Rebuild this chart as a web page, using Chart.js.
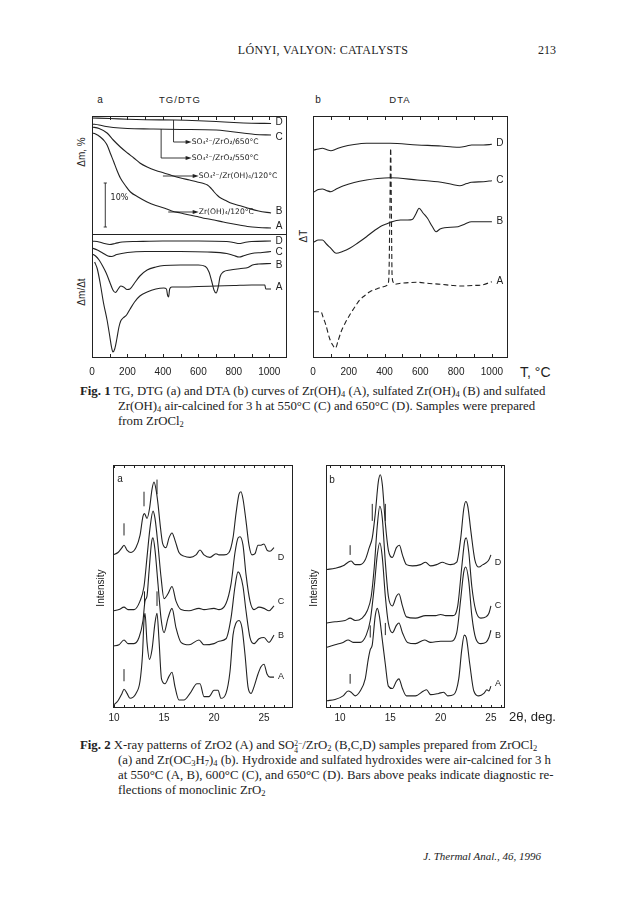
<!DOCTYPE html>
<html>
<head>
<meta charset="utf-8">
<script src="https://cdn.jsdelivr.net/npm/chart.js@4.4.1/dist/chart.umd.min.js"></script>
<style>
body{margin:0;background:#fff;width:624px;height:903px;position:relative;overflow:hidden;font-family:"Liberation Serif",serif;color:#222}
.t{position:absolute;white-space:nowrap;line-height:1}
.c{transform:translate(-50%,-50%)}
.v{transform:translate(-50%,-50%) rotate(-90deg)}
.s{font-family:"Liberation Sans",Arial,sans-serif}
canvas{position:absolute}
.cap{position:absolute;font-size:12.8px;line-height:15px;white-space:nowrap}
.cap sub{font-size:8.5px;line-height:0;vertical-align:-2px}
.st{display:inline-block;font-size:7.5px;line-height:7px;vertical-align:-4px}
</style>
</head>
<body>
<div class="t c" style="left:323px;top:50px;font-size:12px;letter-spacing:0.3px">LÓNYI, VALYON: CATALYSTS</div>
<div class="t c" style="left:547px;top:50px;font-size:12px">213</div>

<div class="t c s" style="left:100px;top:100px;font-size:10px">a</div>
<div class="t c s" style="left:180px;top:100px;font-size:9.5px;letter-spacing:1px">TG/DTG</div>
<div class="t c s" style="left:318px;top:100px;font-size:10px">b</div>
<div class="t c s" style="left:400px;top:100px;font-size:9.5px;letter-spacing:1px">DTA</div>
<div class="t v s" style="left:82px;top:152px;font-size:10px">Δm, %</div>
<div class="t v s" style="left:82px;top:292px;font-size:10px">Δm/Δt</div>
<div class="t v s" style="left:304px;top:236px;font-size:10px">ΔT</div>
<div class="t s" style="left:520px;top:365px;font-size:14px">T, °C</div>

<canvas id="fig1a" width="235" height="286" style="left:72px;top:96px"></canvas>
<canvas id="fig1b" width="235" height="286" style="left:293px;top:96px"></canvas>

<div class="cap" style="left:80px;top:384px"><b>Fig. 1</b> TG, DTG (a) and DTA (b) curves of Zr(OH)<sub>4</sub> (A), sulfated Zr(OH)<sub>4</sub> (B) and sulfated</div>
<div class="cap" style="left:118px;top:399px">Zr(OH)<sub>4</sub> air-calcined for 3 h at 550°C (C) and 650°C (D). Samples were prepared</div>
<div class="cap" style="left:118px;top:414px">from ZrOCl<sub>2</sub></div>

<canvas id="fig2a" width="220" height="287" style="left:93px;top:445px"></canvas>
<canvas id="fig2b" width="219" height="287" style="left:306px;top:445px"></canvas>
<div class="t c s" style="left:120px;top:479px;font-size:10px">a</div>
<div class="t c s" style="left:332px;top:480px;font-size:10px">b</div>
<div class="t v s" style="left:101px;top:588px;font-size:10px">Intensity</div>
<div class="t v s" style="left:314px;top:588px;font-size:10px">Intensity</div>
<div class="t s" style="left:509px;top:710px;font-size:13px">2θ, deg.</div>

<div class="cap" style="left:80px;top:738px"><b>Fig. 2</b> X-ray patterns of ZrO2 (A) and SO<span class="st">2−<br>4</span>/ZrO<sub>2</sub> (B,C,D) samples prepared from ZrOCl<sub>2</sub></div>
<div class="cap" style="left:118px;top:753px">(a) and Zr(OC<sub>3</sub>H<sub>7</sub>)<sub>4</sub> (b). Hydroxide and sulfated hydroxides were air-calcined for 3 h</div>
<div class="cap" style="left:118px;top:768px">at 550°C (A, B), 600°C (C), and 650°C (D). Bars above peaks indicate diagnostic re-</div>
<div class="cap" style="left:118px;top:783px">flections of monoclinic ZrO<sub>2</sub></div>

<div class="t" style="right:83px;top:851px;font-size:11px;font-style:italic">J. Thermal Anal., 46, 1996</div>

<script>
// ---- Fig. 1 : temperature axis (°C) ----
var tempTicks = [0, 100, 200, 300, 400, 500, 600, 700, 800, 900, 1000];
var tempLabels = [0, 200, 400, 600, 800, 1000];

// TG curves  [T, signal]
var tgD = [[0,240],[100,239.5],[200,238.8],[300,238.3],[468,238],[600,237.3],[700,236.5],[800,235.5],[900,234.8],[1010,234.5]];
var tgC = [[0,234],[40,233],[80,231.5],[120,230.5],[200,229.5],[330,229],[500,228.5],[700,228],[780,226.5],[850,225],[920,223.5],[1010,223]];
var tgB = [[0,231],[40,229.5],[85,225],[120,218],[160,211],[200,205],[236,200],[270,195],[311,191],[360,187.5],[406,185],[450,182.5],[500,180],[550,178],[594,176],[630,174.5],[651,173],[670,170],[689,166],[708,162.5],[726,160],[755,157.5],[783,155],[830,152.5],[877,150],[940,147],[1010,145]];
var tgA = [[0,225],[20,224],[47,221],[70,217],[85,213],[105,204],[123,196],[140,188],[160,180],[190,172],[217,166],[260,161],[311,156],[360,152.5],[406,150],[450,147],[500,145],[550,143],[594,141.5],[640,139.5],[689,138],[740,136],[783,134.5],[830,133],[877,131.5],[940,130.5],[1010,130]];

// DTG curves
var dtgD = [[0,117],[40,116],[70,114.5],[100,113.5],[130,114.5],[170,116],[250,116.5],[400,117],[600,117],[760,116.5],[800,115.5],[830,114.5],[860,115.5],[900,116.5],[1010,117]];
var dtgC = [[0,110],[30,108],[60,105],[90,102],[110,101.5],[140,103.5],[200,105.5],[300,106.5],[500,106.5],[650,106],[760,104.5],[800,102.5],[830,101],[860,102.5],[900,104.5],[960,105.5],[1010,106.5]];
var dtgB = [[0,104],[20,102],[40,98],[60,92],[80,85],[100,76],[118,68],[132,65.5],[148,69],[162,72],[178,71],[198,68.5],[214,69],[240,75],[270,82],[311,88],[360,91],[406,92.5],[500,93],[600,93],[640,91.5],[660,86],[675,77],[688,68],[700,65],[712,71],[722,81],[740,86],[780,88],[840,89.5],[880,90.5],[905,93],[940,94],[1010,94.5]];
var dtgA = [[15,96],[30,89],[47,74],[65,55],[85,38],[100,22],[110,11],[118,6],[128,9],[140,19],[152,31],[162,37],[175,40],[195,43],[215,49],[240,56],[270,62],[311,66],[360,69],[405,70],[420,69],[426,63],[432,61],[438,69],[450,71],[500,71],[600,71.5],[700,72],[800,72.5],[900,73],[975,73],[980,69],[1010,69]];

// DTA curves
var dtaD = [[5,208],[30,209],[53,209.7],[75,208.5],[100,207.3],[130,209],[167,211.3],[230,213.5],[299,214.7],[432,214.7],[583,213],[716,212],[780,211],[820,210.7],[860,212],[886,213],[953,213],[1000,213.7]];
var dtaC = [[5,166],[30,168.5],[53,169],[75,167.5],[100,166.3],[130,169],[167,172],[230,175.5],[299,178],[360,179.5],[432,180.3],[583,178],[716,175.7],[780,173.5],[820,172.3],[860,174.5],[886,175.7],[953,176.3],[1000,177.3]];
var dtaB = [[5,116],[30,118],[53,118],[75,114],[100,109.7],[129,104.7],[165,106.5],[205,109.7],[250,115],[299,121.3],[340,127],[375,131.3],[410,134],[432,135.7],[489,138],[530,138],[555,138.5],[575,144],[593,149.7],[615,145],[640,139.7],[665,132],[688,126.3],[710,129],[735,130.3],[811,131.3],[850,134],[886,136.3],[1000,136.3]];
var dtaA = [[5,46.3],[44,46.3],[58,40],[72,33],[92,20],[110,13],[125,9.7],[140,17],[157,26.3],[180,35],[205,43],[230,50],[261,58],[290,62.5],[318,66.3],[355,69],[394,71.3],[417,73],[424,80],[430,150],[434,209.7],[438,150],[442,83],[448,76],[455,73.7],[489,74.7],[583,75.7],[650,74.5],[716,73.7],[780,72.5],[830,72],[890,72.5],[943,73],[1000,76.3]];

// ---- Fig. 2 : 2-theta axis (deg) ----
var thetaTicks = [9, 10, 11, 12, 13, 14, 15, 16, 17, 18, 19, 20, 21, 22, 23, 24, 25, 26, 27];
var thetaLabels = [10, 15, 20, 25];

// (a) ZrOCl2 series
var xaD = [[9.9,63],[10.4,64],[10.8,66],[11.0,67],[11.3,65],[11.7,64],[12.2,66],[12.6,71],[12.9,79],[13.05,80],[13.3,78],[13.55,82],[13.8,90],[14.0,93],[14.2,90],[14.4,84],[14.6,76],[14.85,68],[15.2,66],[15.5,70],[15.8,72],[16.1,69],[16.5,64],[17.0,62.5],[17.6,62],[18.2,63],[18.6,65],[19.0,63],[19.6,62],[20.2,63.5],[20.5,63],[21.0,63],[21.5,64],[21.9,70],[22.2,80],[22.5,88],[22.7,89],[22.9,86],[23.2,77],[23.5,67],[23.8,63],[24.1,63.5],[24.4,67],[24.7,67],[25.0,67.5],[25.3,65],[25.6,64.5],[26.0,66]];
var xaC = [[9.9,40],[10.5,40.5],[11.0,41.5],[11.4,40.5],[12.0,40.5],[12.6,44],[13.0,50],[13.3,62],[13.6,74],[13.9,81],[14.1,78],[14.4,67],[14.7,54],[15.0,45],[15.4,47],[15.8,50],[16.2,44],[16.7,40.5],[17.5,40],[18.5,41],[19.0,40.5],[20.0,41],[20.5,40.5],[21.2,43],[21.7,51],[22.1,64],[22.4,70],[22.6,70.5],[22.9,67],[23.2,55],[23.6,44],[24.0,40.5],[24.5,41.5],[25.0,41],[25.5,40],[26.0,42]];
var xaB = [[9.9,25.5],[10.5,26],[11.0,28],[11.4,26.5],[12.0,26.5],[12.5,29],[12.9,36],[13.1,44],[13.3,46],[13.5,56],[13.75,68],[13.9,70],[14.1,65],[14.4,51],[14.7,37],[15.0,31],[15.4,37],[15.8,41],[16.2,33],[16.7,27],[17.5,26],[18.5,28],[19.0,26],[20.0,26.5],[20.5,27.5],[21.2,28.5],[21.7,37],[22.1,50],[22.4,56],[22.6,55],[22.9,50],[23.2,40],[23.6,29],[24.0,26.5],[24.5,28.5],[25.0,29],[25.5,27],[26.0,30]];
var xaA = [[9.9,1],[10.4,3],[10.8,6],[11.0,7.7],[11.3,6],[11.6,4],[12.2,6],[12.6,11],[12.85,22],[13.0,36],[13.1,39],[13.3,27],[13.55,20],[13.8,24],[14.1,35],[14.3,39],[14.5,28],[14.75,12],[15.1,10],[15.5,13],[15.8,14.7],[16.1,8.7],[16.5,3.3],[17.0,3.3],[17.6,6],[18.3,10],[18.6,10],[19.0,4.7],[19.5,4.7],[20.0,7.3],[20.4,7.3],[20.7,4],[21.2,6],[21.6,15],[21.9,30],[22.2,35],[22.5,36],[22.8,33],[23.1,22],[23.4,8.7],[23.7,6],[24.0,8.7],[24.4,14],[24.7,17],[25.0,18],[25.3,14],[25.6,12.7],[26.0,12.7]];
// monoclinic bars [2theta, from, to]
var xaBars = [[11.0,71,76],[13.0,83,89],[14.3,88,94],[11.0,11,16],[13.05,42,48],[14.3,42,48]];

// (b) Zr(OC3H7)4 series
var xbD = [[8.7,57],[9.5,57.5],[10.3,58.5],[10.8,60],[11.1,60.5],[11.5,59],[12.0,59],[12.5,61],[12.9,66],[13.2,70],[13.5,80],[13.8,93],[14.0,96],[14.2,92],[14.5,76],[14.8,65],[15.2,62],[15.6,66],[15.9,67],[16.2,63],[16.6,59],[17.2,58.5],[18.0,59],[18.5,60],[19.0,58.5],[19.6,59],[20.2,60],[20.5,59.5],[21.0,59],[21.6,60],[22.0,70],[22.3,82],[22.5,85],[22.7,83],[23.0,73],[23.4,61],[23.8,58],[24.2,59],[24.6,60],[24.8,61],[25.0,63]];
var xbC = [[8.7,35],[9.5,35.5],[10.5,36],[11.0,37],[11.5,36],[12.2,37],[12.7,40],[13.1,46],[13.4,58],[13.7,75],[13.95,83],[14.2,78],[14.5,60],[14.8,46],[15.2,42],[15.6,46],[15.85,47],[16.2,42],[16.6,37.5],[17.5,37],[18.5,38],[19.5,38],[20.0,38.5],[20.5,38],[21.2,38],[21.7,42],[22.1,58],[22.4,69],[22.55,70],[22.8,64],[23.1,50],[23.5,40],[24.0,37],[24.5,37.5],[24.8,39],[25.0,42]];
var xbB = [[8.7,25],[9.5,26],[10.3,27],[10.8,28],[11.3,27],[12.0,27],[12.6,30],[13.0,36],[13.4,50],[13.7,63],[13.95,68],[14.2,62],[14.5,46],[14.8,35],[15.2,31],[15.6,34],[15.85,35],[16.2,31],[16.7,27],[17.5,26.5],[18.4,28],[19.0,27],[20.0,27.5],[21.0,27.5],[21.6,31],[22.0,45],[22.3,56],[22.5,58],[22.8,52],[23.1,38],[23.5,28.5],[24.0,26.5],[24.5,27],[24.8,29],[25.0,32]];
var xbA = [[8.7,3],[9.5,3.5],[10.3,5],[10.8,7],[11.1,6.5],[11.5,5],[12.0,7],[12.5,12],[12.8,20],[13.0,24],[13.2,26],[13.5,38],[13.7,41],[13.9,38],[14.2,28],[14.5,18],[14.8,9],[15.2,8],[15.6,11],[15.85,12],[16.2,8],[16.6,5],[17.5,5],[18.3,7],[18.6,7.5],[19.0,5.5],[19.8,6],[20.3,6.5],[20.7,5],[21.3,5.5],[21.8,12],[22.1,24],[22.35,30],[22.55,29],[22.9,18],[23.3,7],[23.8,5],[24.3,6],[24.6,7.5],[24.8,7],[25.0,9]];
var xbBars = [[11.0,63,67],[13.2,77,84],[14.5,77,84],[11.0,10,14],[13.0,29,34],[14.5,30,35]];

Chart.defaults.font.family = '"Liberation Sans", Arial, sans-serif';
Chart.defaults.color = '#222';

function pts(a) {
  return a.map(function (p) { return {x: p[0], y: p[1]}; });
}

function curve(a, dash) {
  return {data: pts(a), borderColor: '#222', borderWidth: 1.1, pointRadius: 0,
          cubicInterpolationMode: 'monotone', borderDash: dash || [], fill: false};
}

function barSet(bars) {
  var d = [];
  bars.forEach(function (b) { d.push({x: b[0], y: b[1]}, {x: b[0], y: b[2]}, {x: b[0], y: null}); });
  return {data: d, borderColor: '#222', borderWidth: 1, pointRadius: 0, tension: 0, spanGaps: false, fill: false};
}

function xAxis(min, max, ticks, labels, pad) {
  var inRange = ticks.filter(function (v) { return v >= min && v <= max; });
  return {
    type: 'linear', min: min, max: max,
    grid: {display: false, drawTicks: false}, border: {display: false},
    afterBuildTicks: function (ax) { ax.ticks = inRange.map(function (v) { return {value: v}; }); },
    afterFit: function (ax) { ax.height = 24; },
    ticks: {autoSkip: false, maxRotation: 0, padding: pad, color: '#222', font: {size: 10},
            callback: function (v) { return labels.indexOf(v) >= 0 ? String(v) : ''; }}
  };
}

// frame, inward ticks, dividers, arrows and labels
function frame(deco) {
  return {
    id: 'frame',
    afterDatasetsDraw: function (chart) {
      var ctx = chart.ctx, a = chart.chartArea, sx = chart.scales.x, sy = chart.scales.y;
      ctx.save();
      ctx.strokeStyle = '#222';
      ctx.lineWidth = 1;
      ctx.strokeRect(a.left + 0.5, a.top + 0.5, a.right - a.left - 1, a.bottom - a.top - 1);
      deco.ticks.forEach(function (v) {
        if (v < sx.min || v > sx.max) return;
        var px = Math.round(sx.getPixelForValue(v)) + 0.5;
        ctx.beginPath();
        ctx.moveTo(px, a.bottom); ctx.lineTo(px, a.bottom - deco.len);
        ctx.moveTo(px, a.top); ctx.lineTo(px, a.top + deco.len);
        ctx.stroke();
      });
      (deco.hlines || []).forEach(function (v) {
        var py = Math.round(sy.getPixelForValue(v)) + 0.5;
        ctx.beginPath(); ctx.moveTo(a.left, py); ctx.lineTo(a.right, py); ctx.stroke();
      });
      (deco.paths || []).forEach(function (p) {
        ctx.lineWidth = 0.9;
        ctx.beginPath();
        p.pts.forEach(function (q, i) {
          var X = sx.getPixelForValue(q[0]), Y = sy.getPixelForValue(q[1]);
          if (i) ctx.lineTo(X, Y); else ctx.moveTo(X, Y);
        });
        ctx.stroke();
        if (p.arrow) {
          var q = p.pts[p.pts.length - 1];
          var X = sx.getPixelForValue(q[0]), Y = sy.getPixelForValue(q[1]);
          ctx.fillStyle = '#222';
          ctx.beginPath(); ctx.moveTo(X + 3, Y); ctx.lineTo(X - 3, Y - 2); ctx.lineTo(X - 3, Y + 2); ctx.closePath(); ctx.fill();
        }
      });
      ctx.fillStyle = '#222';
      ctx.textBaseline = 'middle';
      (deco.texts || []).forEach(function (t) {
        ctx.font = t.font || '10px "Liberation Sans", Arial, sans-serif';
        ctx.textAlign = t.align || 'center';
        ctx.fillText(t.s, sx.getPixelForValue(t.x), sy.getPixelForValue(t.y));
      });
      ctx.restore();
    }
  };
}

function make(id, datasets, xs, ymin, ymax, deco) {
  return new Chart(document.getElementById(id), {
    type: 'line',
    data: {datasets: datasets},
    options: {
      responsive: false, animation: false, events: [],
      layout: {padding: {left: 20, right: 20, top: 20, bottom: 0}},
      plugins: {legend: {display: false}, tooltip: {enabled: false}},
      scales: {x: xs, y: {display: false, min: ymin, max: ymax}}
    },
    plugins: [frame(deco)]
  });
}

var small = '7.6px "DejaVu Sans", sans-serif';

make('fig1a',
  [curve(tgA), curve(tgB), curve(tgC), curve(tgD), curve(dtgA), curve(dtgB), curve(dtgC), curve(dtgD)],
  xAxis(0, 1100, tempTicks, tempLabels, 8), 0, 242,
  {ticks: tempTicks, len: 4, hlines: [124],
   paths: [
     {pts: [[460, 238], [460, 216], [545, 216]], arrow: true},
     {pts: [[390, 229], [390, 200], [545, 200]], arrow: true},
     {pts: [[400, 182], [585, 182]], arrow: true},
     {pts: [[430, 146], [585, 146]], arrow: true},
     {pts: [[75, 175], [75, 131]]},
     {pts: [[66, 175], [84, 175]]},
     {pts: [[66, 131], [84, 131]]}
   ],
   texts: [
     {x: 562, y: 216, s: 'SO₄²⁻/ZrO₂/650°C', font: small, align: 'left'},
     {x: 562, y: 200, s: 'SO₄²⁻/ZrO₂/550°C', font: small, align: 'left'},
     {x: 602, y: 182, s: 'SO₄²⁻/Zr(OH)₄/120°C', font: small, align: 'left'},
     {x: 602, y: 146, s: 'Zr(OH)₄/120°C', font: small, align: 'left'},
     {x: 105, y: 160, s: '10%', font: '8px "DejaVu Sans", sans-serif', align: 'left'},
     {x: 1055, y: 236, s: 'D'}, {x: 1055, y: 221, s: 'C'}, {x: 1055, y: 147, s: 'B'}, {x: 1055, y: 132, s: 'A'},
     {x: 1055, y: 117, s: 'D'}, {x: 1055, y: 106, s: 'C'}, {x: 1055, y: 93, s: 'B'}, {x: 1055, y: 71, s: 'A'}
   ]});

make('fig1b',
  [curve(dtaA, [5, 3]), curve(dtaB), curve(dtaC), curve(dtaD)],
  xAxis(0, 1090, tempTicks, tempLabels, 8), 0, 242,
  {ticks: tempTicks, len: 4,
   texts: [{x: 1045, y: 215, s: 'D'}, {x: 1045, y: 178, s: 'C'}, {x: 1045, y: 137, s: 'B'}, {x: 1045, y: 77, s: 'A'}]});

make('fig2a',
  [curve(xaA), curve(xaB), curve(xaC), curve(xaD), barSet(xaBars)],
  xAxis(9.9, 27.9, thetaTicks, thetaLabels, 4), 0, 100,
  {ticks: thetaTicks, len: 3,
   texts: [{x: 26.7, y: 62, s: 'D', font: '9px "Liberation Sans"'}, {x: 26.7, y: 44, s: 'C', font: '9px "Liberation Sans"'},
           {x: 26.7, y: 30, s: 'B', font: '9px "Liberation Sans"'}, {x: 26.7, y: 13, s: 'A', font: '9px "Liberation Sans"'}]});

make('fig2b',
  [curve(xbA), curve(xbB), curve(xbC), curve(xbD), barSet(xbBars)],
  xAxis(8.6, 26.4, thetaTicks, thetaLabels, 4), 0, 100,
  {ticks: thetaTicks, len: 3,
   texts: [{x: 25.7, y: 60, s: 'D', font: '9px "Liberation Sans"'}, {x: 25.7, y: 42, s: 'C', font: '9px "Liberation Sans"'},
           {x: 25.7, y: 30, s: 'B', font: '9px "Liberation Sans"'}, {x: 25.7, y: 10, s: 'A', font: '9px "Liberation Sans"'}]});
</script>
</body>
</html>
